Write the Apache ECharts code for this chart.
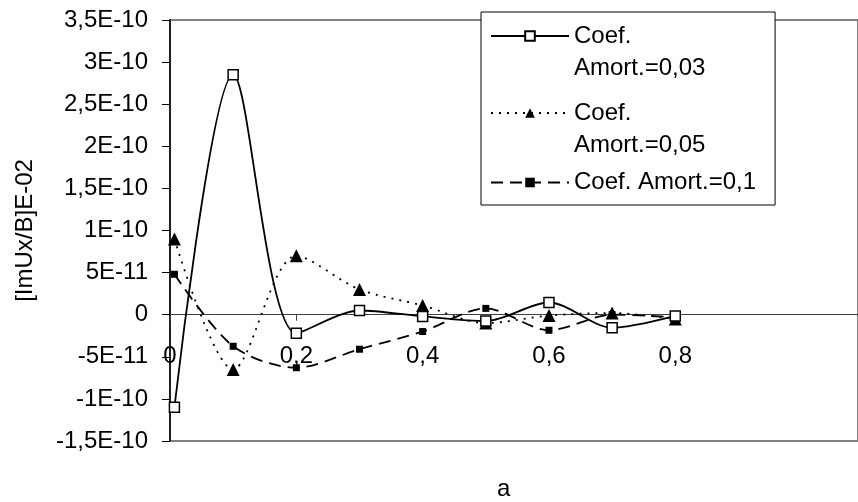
<!DOCTYPE html>
<html>
<head>
<meta charset="utf-8">
<script src="https://cdn.jsdelivr.net/npm/echarts@6/dist/echarts.min.js"></script>
<style>
  html, body { margin: 0; padding: 0; background: #fff; }
  #main { width: 858px; height: 502px; }
</style>
</head>
<body>
<div id="main"></div>
<script>
// valores
const xValues = [0.007, 0.1, 0.2, 0.3, 0.4, 0.5, 0.6, 0.7, 0.8];
const amort003 = [-1.1e-10, 2.85e-10, -2.2e-11, 5e-12, -2e-12, -7.5e-12, 1.45e-11, -1.55e-11, -1.5e-12];
const amort005 = [9.0e-11, -6.5e-11, 7.0e-11, 3.0e-11, 1.1e-11, -1.0e-11, -1e-12, 2e-12, -5e-12];
const amort01 = [4.8e-11, -3.75e-11, -6.3e-11, -4.1e-11, -2.0e-11, 7.5e-12, -1.85e-11, 0, -3e-12];
const seriesNames = ['Coef. Amort.=0,03', 'Coef. Amort.=0,05', 'Coef. Amort.=0,1'];
// linha em branco no início para o ícone ficar alinhado com a primeira linha
const legendLabels = [' \nCoef.\nAmort.=0,03', ' \nCoef.\nAmort.=0,05', ' \nCoef. Amort.=0,1\n '];
const xTicks = [0, 0.2, 0.4, 0.6, 0.8];
const xTickLabels = ['0', '0,2', '0,4', '0,6', '0,8'];
const yTickLabels = ['-1,5E-10', '-1E-10', '-5E-11', '0', '5E-11', '1E-10', '1,5E-10', '2E-10', '2,5E-10', '3E-10', '3,5E-10'];

const FONT = '"Liberation Sans", Arial, sans-serif';
const FS = 24;
const yMin = -1.5e-10, yMax = 3.5e-10, yStep = 5e-11;
const gridTop = 20, gridHeight = 421;
const SMOOTH = 0.3;

function pairs(ys) {
    return ys.map((y, i) => [xValues[i], y]);
}

const chart = echarts.init(document.getElementById('main'));
const option = {
    animation: false,
    title: {
        text: 'a',
        left: 492,
        top: 472,
        textStyle: { fontFamily: FONT, fontSize: FS, fontWeight: 'normal', color: '#000' }
    },
    grid: {
        left: 170,
        top: gridTop,
        width: 720,
        height: gridHeight,
        show: true,
        borderColor: '#808080',
        borderWidth: 2,
        backgroundColor: '#fff'
    },
    legend: {
        orient: 'vertical',
        left: 481,
        top: 12,
        padding: [-24, 19, -18, 9],
        itemGap: -19,
        itemWidth: 78,
        itemHeight: 12,
        backgroundColor: '#fff',
        borderColor: '#000',
        borderWidth: 1,
        textStyle: { fontFamily: FONT, fontSize: FS, color: '#000', lineHeight: 32 },
        formatter: name => legendLabels[seriesNames.indexOf(name)],
        data: [
            { name: seriesNames[0] },
            { name: seriesNames[1] },
            { name: seriesNames[2], textStyle: { lineHeight: 27 } }
        ]
    },
    xAxis: {
        type: 'value',
        min: 0,
        max: 720 / 661,
        // eixo x cruza em y = 0
        offset: -gridHeight * (0 - yMin) / (yMax - yMin),
        axisLine: { onZero: false, lineStyle: { color: '#404040', width: 1 } },
        axisTick: { show: true, length: 6, customValues: xTicks, lineStyle: { color: '#404040' } },
        axisLabel: {
            customValues: xTicks,
            margin: 30,
            fontFamily: FONT, fontSize: FS, color: '#000',
            formatter: v => xTickLabels[xTicks.indexOf(Math.round(v * 10) / 10)]
        },
        splitLine: { show: false }
    },
    yAxis: {
        type: 'value',
        min: yMin,
        max: yMax,
        interval: yStep,
        name: '[ImUx/B]E-02',
        nameLocation: 'middle',
        nameRotate: 90,
        nameGap: 133,
        nameTextStyle: { fontFamily: FONT, fontSize: FS, color: '#000' },
        axisLine: { show: true, lineStyle: { color: '#000', width: 1.5 } },
        axisTick: { show: true, length: 8, lineStyle: { color: '#000' } },
        axisLabel: {
            margin: 22,
            fontFamily: FONT, fontSize: FS, color: '#000',
            formatter: v => yTickLabels[Math.round((v - yMin) / yStep)]
        },
        splitLine: { show: false }
    },
    series: [
        {
            name: seriesNames[0],
            type: 'line',
            smooth: SMOOTH,
            data: pairs(amort003),
            symbol: 'rect',
            symbolSize: 10,
            itemStyle: { color: '#fff', borderColor: '#000', borderWidth: 1.5 },
            lineStyle: { color: '#000', width: 1.8, type: 'solid' },
            z: 5
        },
        {
            name: seriesNames[1],
            type: 'line',
            smooth: SMOOTH,
            data: pairs(amort005),
            symbol: 'triangle',
            symbolSize: 13,
            itemStyle: { color: '#000' },
            lineStyle: { color: '#000', width: 1.8, type: [2, 6] },
            z: 4
        },
        {
            name: seriesNames[2],
            type: 'line',
            smooth: SMOOTH,
            data: pairs(amort01),
            symbol: 'rect',
            symbolSize: 7,
            itemStyle: { color: '#000' },
            lineStyle: { color: '#000', width: 1.8, type: [12, 7] },
            z: 3
        }
    ]
};
chart.setOption(option);
</script>
</body>
</html>
